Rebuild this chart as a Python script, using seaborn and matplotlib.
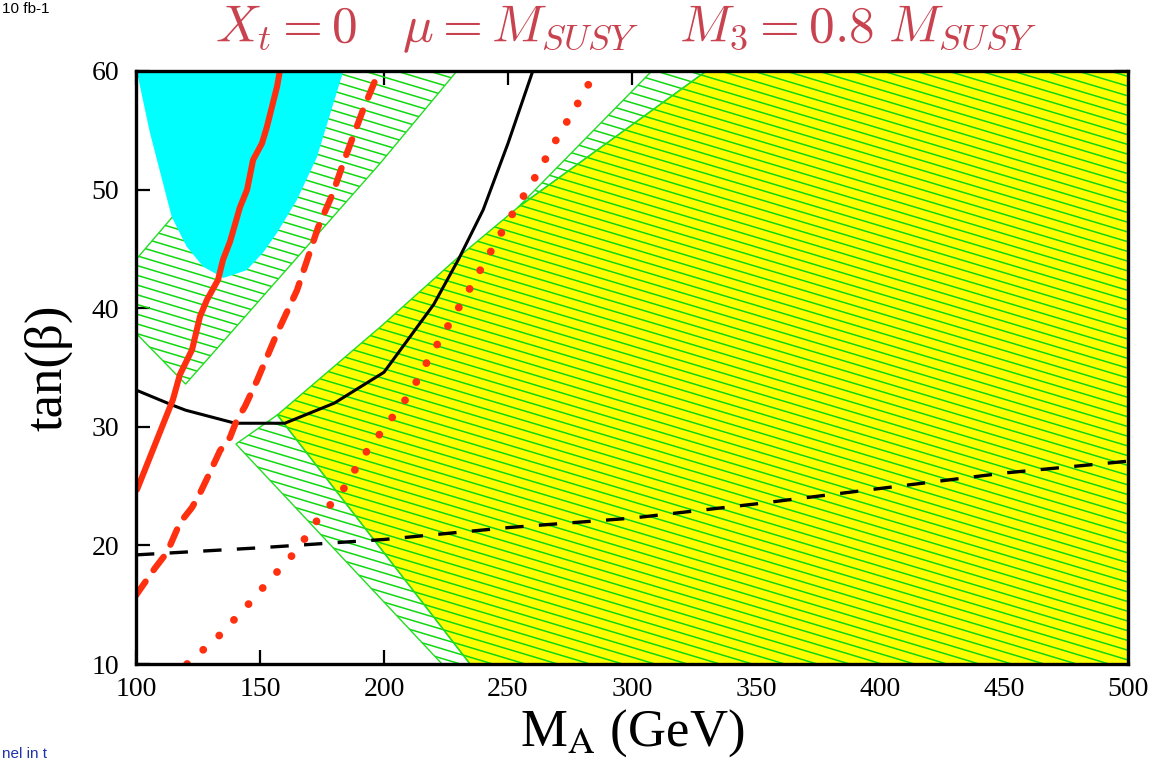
import numpy as np
import matplotlib
matplotlib.use("Agg")
import matplotlib.pyplot as plt
from matplotlib.patches import Polygon
from matplotlib.collections import LineCollection
import seaborn as sns

# ---- exclusion / discovery regions in the (M_A, tan beta) plane ----
# cyan region (upper left)
cyan_x = [100.0, 100.3, 105.6, 114.4, 120.4, 127.1, 135.2, 144.6, 151.3, 156.7, 164.8, 172.9, 183.6]
cyan_y = [60.0, 60.0, 54.8, 47.7, 45.2, 43.5, 42.55, 43.2, 44.7, 46.3, 49.1, 52.7, 60.0]

# hatched band, upper left
band_ul_x = [100.0, 165.0, 229.4, 198.4, 120.0, 100.0]
band_ul_y = [44.1, 60.0, 60.0, 52.2, 33.6, 37.9]

# hatched band, lower left
band_ll_x = [140.3, 157.0, 234.7, 223.4]
band_ll_y = [28.55, 31.0, 10.0, 10.0]

# yellow (hatched) region
yellow_x = [157.0, 198.4, 229.4, 254.0, 330.0, 500.0, 500.0, 234.7]
yellow_y = [31.0, 38.4, 44.2, 48.5, 60.0, 60.0, 10.0, 10.0]

# thin hatched wedge above the yellow region
wedge_x = [254.0, 308.0, 330.0]
wedge_y = [48.5, 60.0, 60.0]

# ---- contour lines ----
red_solid_x = [100.4, 114.9, 117.7, 122.6, 125.8, 128.6, 133.1, 135.1, 137.9, 141.9,
               144.8, 147.2, 150.8, 152.8, 156.9, 158.0]
red_solid_y = [24.7, 32.3, 34.4, 36.5, 39.3, 40.7, 42.4, 44.1, 45.6, 48.5,
               50.0, 52.5, 53.9, 55.3, 58.7, 60.0]

red_dash_x = [100.0, 107.7, 112.5, 117.7, 122.6, 125.8, 129.0, 133.9, 137.9, 140.7,
              143.9, 148.8, 156.9, 164.9, 173.4, 179.4, 183.5, 191.5, 198.0]
red_dash_y = [15.8, 18.1, 19.4, 21.9, 23.2, 24.4, 25.8, 28.0, 29.1, 30.6,
              31.7, 33.9, 37.9, 41.5, 46.8, 49.7, 52.2, 56.7, 60.0]

red_dot_x = [120.6, 133.1, 143.9, 154.0, 164.9, 173.0, 183.5, 191.5, 201.2, 210.5,
             217.7, 225.8, 233.9, 241.5, 249.6, 261.7, 269.4, 277.4, 285.5]
red_dot_y = [10.0, 12.3, 14.7, 17.1, 19.6, 22.1, 24.7, 27.5, 30.2, 32.8,
             35.6, 38.5, 41.4, 44.2, 47.2, 51.3, 54.2, 57.0, 60.0]

black_solid_x = [100, 115, 120, 140, 160, 180, 200, 220, 230, 240, 250, 260]
black_solid_y = [33.1, 31.8, 31.4, 30.3, 30.3, 32.0, 34.6, 40.3, 44.1, 48.3, 53.9, 60.0]

black_dash_x = [100, 150, 200, 250, 300, 350, 400, 450, 500]
black_dash_y = [19.2, 19.8, 20.5, 21.5, 22.3, 23.5, 24.8, 26.1, 27.1]

x_ticks = [100, 150, 200, 250, 300, 350, 400, 450, 500]
y_ticks = [10, 20, 30, 40, 50, 60]

RED = "#ff3010"
GREEN = "#22dd22"
HATCH_GREEN = "#10d810"

sns.set_theme(style="ticks")
plt.rcParams["font.family"] = ["Liberation Serif", "DejaVu Serif"]
plt.rcParams["text.color"] = "black"
plt.rcParams["axes.labelcolor"] = "black"
plt.rcParams["xtick.color"] = "black"
plt.rcParams["ytick.color"] = "black"

fig = plt.figure(figsize=(11.64, 7.63), dpi=100)
ax = fig.add_axes([136 / 1164, 99 / 763, 992 / 1164, 593 / 763])
ax.set_xlim(100, 500)
ax.set_ylim(10, 60)

# hatch: parallel lines gently descending to the right
hatch_slope = -0.0627
hatch_step = 0.82
hx = np.array([90.0, 510.0])


def hatched_region(xs, ys, face=None):
    verts = np.column_stack([xs, ys])
    if face is not None:
        ax.add_patch(Polygon(verts, closed=True, facecolor=face, edgecolor="none", zorder=1))
    clip = Polygon(verts, closed=True, facecolor="none", edgecolor=GREEN, lw=1.0, zorder=3)
    ax.add_patch(clip)
    offsets = np.arange(10.0, 90.0, hatch_step)
    segs = [np.column_stack([hx, c + hatch_slope * (hx - 100.0)]) for c in offsets]
    lc = LineCollection(segs, colors=HATCH_GREEN, linewidths=1.1, zorder=2)
    ax.add_collection(lc)
    lc.set_clip_path(clip)


hatched_region(yellow_x, yellow_y, face="#ffff00")
hatched_region(wedge_x, wedge_y)
hatched_region(band_ll_x, band_ll_y)
hatched_region(band_ul_x, band_ul_y)

ax.fill(cyan_x, cyan_y, color="#00ffff", lw=0, zorder=4)

sns.lineplot(x=black_solid_x, y=black_solid_y, sort=False, ax=ax, color="black",
             lw=2.2, zorder=5)
sns.lineplot(x=black_dash_x, y=black_dash_y, sort=False, ax=ax, color="black",
             lw=2.4, linestyle=(0, (5.5, 4.6)), zorder=5)
sns.lineplot(x=red_solid_x, y=red_solid_y, sort=False, ax=ax, color=RED,
             lw=4.4, zorder=6, solid_capstyle="round")
sns.lineplot(x=red_dash_x, y=red_dash_y, sort=False, ax=ax, color=RED,
             lw=4.6, linestyle=(0, (2.6, 2.2)), dash_capstyle="round", zorder=6)
sns.lineplot(x=red_dot_x, y=red_dot_y, sort=False, ax=ax, color=RED,
             lw=5.6, linestyle=(0, (0.01, 2.75)), dash_capstyle="round", zorder=6)

ax.set_xticks(x_ticks)
ax.set_yticks(y_ticks)
ax.set_xticklabels([str(v) for v in x_ticks])
ax.set_yticklabels([str(v) for v in y_ticks])
ax.tick_params(axis="both", which="major", direction="in", length=10, width=1.6,
               top=True, right=True, labelsize=20, colors="black")
ax.tick_params(axis="x", pad=9)
ax.tick_params(axis="y", pad=12)
for sp in ax.spines.values():
    sp.set_linewidth(2.4)
    sp.set_color("black")
    sp.set_zorder(10)

ax.set_xlabel(r"M$_{\rm A}$ (GeV)", fontsize=38, labelpad=4, math_fontfamily="stix",
              color="black")
ax.set_ylabel("tan(β)", fontsize=38, labelpad=14, color="black")

fig.text(0.538, 0.962, r"$X_t = 0\quad \mu = M_{SUSY}\quad M_3 = 0.8\ M_{SUSY}$",
         ha="center", va="center", fontsize=37, color="#c8434f", math_fontfamily="cm")

# slide fragments at the page edges
fig.text(0.002, 0.998, "10 fb-1", fontsize=11, family="Liberation Sans",
         color="black", va="top", ha="left")
fig.text(0.002, 0.003, "nel in t", fontsize=11, family="Liberation Sans",
         color="#1e32aa", va="bottom", ha="left")

fig.savefig("out.png", dpi=100)
